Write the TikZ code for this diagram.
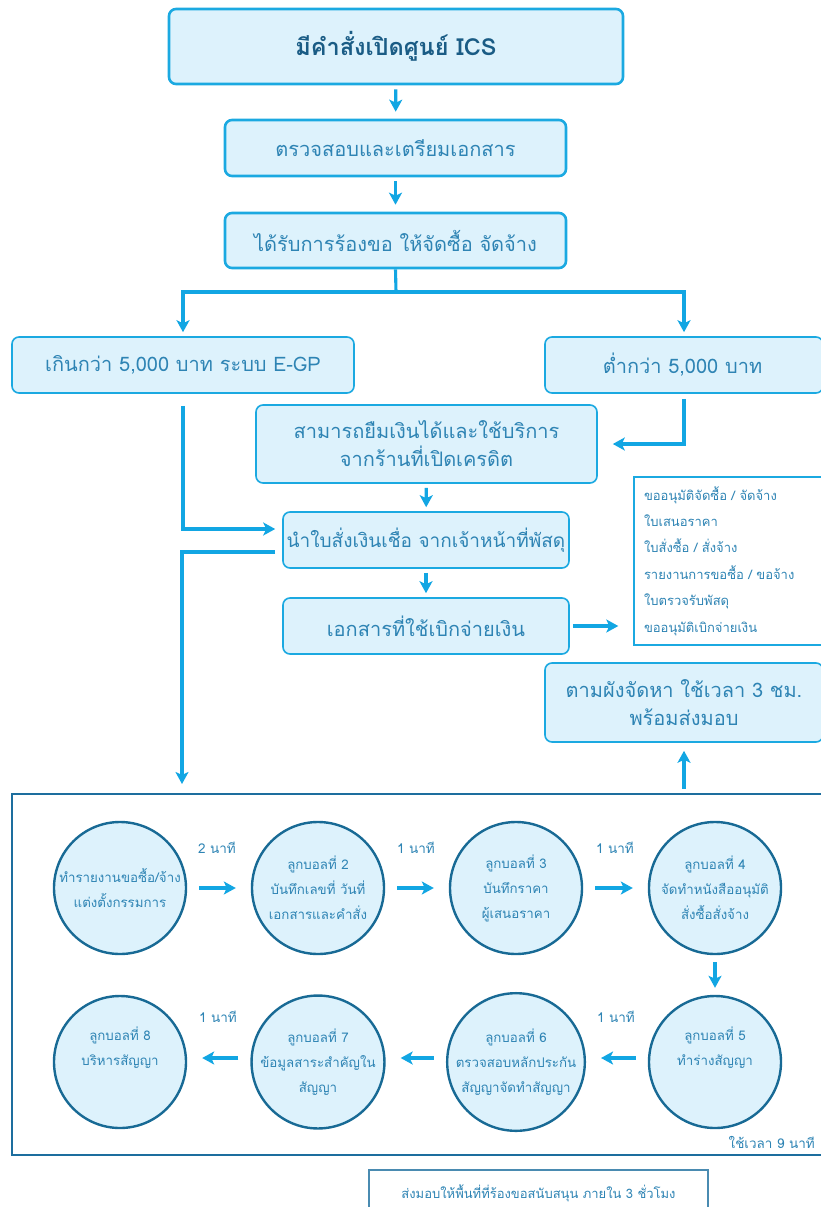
\documentclass[tikz,border=0pt]{standalone}
\usepackage{fontspec}
\setmainfont[Script=Thai]{Loma}
\usetikzlibrary{arrows.meta}
\definecolor{boxfill}{HTML}{DDF2FC}
\definecolor{boxline}{HTML}{1BA9E1}
\definecolor{arrowc}{HTML}{12A6E3}
\definecolor{txt}{HTML}{2E84B4}
\definecolor{titletxt}{HTML}{1A5C85}
\definecolor{framec}{HTML}{1D6E9E}
\definecolor{circlec}{HTML}{186A95}
\tikzset{
  bigbox/.style={draw=boxline, line width=2.6pt, fill=boxfill, rounded corners=7pt, text=txt, align=center, inner sep=0pt},
  box/.style={draw=boxline, line width=1.6pt, fill=boxfill, rounded corners=7pt, text=txt, align=center, inner sep=0pt, font=\fontsize{20}{28}\selectfont},
  ball/.style={circle, draw=circlec, line width=2.4pt, fill=boxfill, minimum size=132pt, inner sep=0pt, text=txt, align=center, font=\fontsize{13.3}{25}\selectfont},
  conn/.style={draw=arrowc, line width=3.1pt},
  arr/.style={conn, -{Stealth[length=12pt,width=13pt,inset=3pt]}},
  lbl/.style={text=txt, font=\fontsize{13.5}{16}\selectfont, inner sep=0pt},
}
\begin{document}
\begin{tikzpicture}[x=1pt,y=-1pt]
\useasboundingbox (0,0) rectangle (821,1207);
% top chain
\node[bigbox, minimum width=454pt, minimum height=75pt, font=\bfseries\fontsize{23.5}{28}\selectfont, text=titletxt] (b1) at (396,46.5) {มีคำสั่งเปิดศูนย์ ICS};
\node[bigbox, minimum width=341pt, minimum height=56pt, font=\fontsize{20}{28}\selectfont] (b2) at (395.5,148) {ตรวจสอบและเตรียมเอกสาร};
\node[bigbox, minimum width=341pt, minimum height=55pt, font=\fontsize{20}{28}\selectfont] (b3) at (395.5,240.5) {ได้รับการร้องขอ ให้จัดซื้อ จัดจ้าง};
\draw[arr, shorten <=4pt, shorten >=7pt] (b1) -- (b2);
\draw[arr, shorten <=4pt, shorten >=7pt] (b2) -- (b3);
% branches
\node[box, minimum width=342pt, minimum height=56pt] (b4) at (183,365) {เกินกว่า 5,000 บาท ระบบ E-GP};
\node[box, minimum width=278pt, minimum height=56pt] (b5) at (684,365) {\hspace*{-3pt}ต่ำกว่า 5,000 บาท};
\coordinate (fork) at (396,292);
\draw[conn] (b3.south) -- (fork);
\draw[arr, shorten >=4pt] (fork) -| (b4.north);
\draw[arr, shorten >=4pt] (fork) -| (b5.north);
\node[box, minimum width=341pt, minimum height=78pt] (b6) at (426.5,444) {สามารถยืมเงินได้และใช้บริการ\\จากร้านที่เปิดเครดิต};
\draw[arr, shorten <=5pt, shorten >=15pt] (b5.south) |- (b6.east);
\node[box, minimum width=286pt, minimum height=56pt, font=\fontsize{19}{28}\selectfont] (b7) at (426,540) {นำใบสั่งเงินเชื่อ จากเจ้าหน้าที่พัสดุ};
\node[box, minimum width=286pt, minimum height=56pt] (b8) at (426,626) {เอกสารที่ใช้เบิกจ่ายเงิน};
\draw[arr, shorten <=4pt, shorten >=4pt] (b6) -- (b7);
\draw[arr, shorten <=4pt, shorten >=4pt] (b7) -- (b8);
\draw[arr, shorten >=7pt] ([yshift=-12pt]b4.south) |- ([yshift=11pt]b7.west);
\coordinate (fin) at (182,784);
\draw[arr] ([xshift=-7pt,yshift=-12pt]b7.west) -| (fin);
% list
\node[draw=boxline, line width=1.4pt, fill=white, minimum width=190pt, minimum height=168pt, text width=170pt, inner xsep=10pt, align=left, text=txt, font=\fontsize{13}{26.4}\selectfont] (list) at (729,561) {ขออนุมัติจัดซื้อ / จัดจ้าง\\ใบเสนอราคา\\ใบสั่งซื้อ / สั่งจ้าง\\รายงานการขอซื้อ / ขอจ้าง\\ใบตรวจรับพัสดุ\\ขออนุมัติเบิกจ่ายเงิน};
\draw[arr, shorten <=3pt, shorten >=15pt] (b8.east) -- (b8.east -| list.west);
\node[box, minimum width=278pt, minimum height=79pt] (b9) at (684,702.5) {ตามผังจัดหา ใช้เวลา 3 ชม.\\พร้อมส่งมอบ};
% frame
\node[draw=framec, line width=2.6pt, minimum width=812pt, minimum height=361pt, inner sep=0pt] (frame) at (418,974.5) {};
\draw[arr, shorten <=4pt, shorten >=8pt] (frame.north -| b9.south) -- (b9.south);
% balls
\node[ball] (c1) at (120,888) {ทำรายงานขอซื้อ/จ้าง\\แต่งตั้งกรรมการ};
\node[ball] (c2) at (318,888) {ลูกบอลที่ 2\\บันทึกเลขที่ วันที่\\เอกสารและคำสั่ง};
\node[ball] (c3) at (516,888) {ลูกบอลที่ 3\\บันทึกราคา\\ผู้เสนอราคา};
\node[ball] (c4) at (715,888) {ลูกบอลที่ 4\\จัดทำหนังสืออนุมัติ\\สั่งซื้อสั่งจ้าง};
\node[ball] (c5) at (715,1062) {ลูกบอลที่ 5\\ทำร่างสัญญา\\\strut};
\node[ball] (c6) at (516,1062) {ลูกบอลที่ 6\\ตรวจสอบหลักประกัน\\สัญญาจัดทำสัญญา};
\node[ball] (c7) at (318,1062) {ลูกบอลที่ 7\\ข้อมูลสาระสำคัญใน\\สัญญา};
\node[ball] (c8) at (120,1062) {ลูกบอลที่ 8\\บริหารสัญญา\\\strut};
\draw[arr, shorten <=12pt, shorten >=15pt] (c1) -- (c2);
\draw[arr, shorten <=12pt, shorten >=15pt] (c2) -- (c3);
\draw[arr, shorten <=12pt, shorten >=15pt] (c3) -- (c4);
\draw[arr, shorten <=7pt, shorten >=7pt] (c4) -- (c5);
\draw[arr, shorten <=12pt, shorten >=15pt] ([yshift=4pt]c5.west) -- ([yshift=4pt]c6.east);
\draw[arr, shorten <=12pt, shorten >=15pt] ([yshift=4pt]c6.west) -- ([yshift=4pt]c7.east);
\draw[arr, shorten <=12pt, shorten >=15pt] ([yshift=4pt]c7.west) -- ([yshift=4pt]c8.east);
\node[lbl] (t12) at (217,848) {2 นาที};
\node[lbl] (t23) at (416,848) {1 นาที};
\node[lbl] (t34) at (615,848) {1 นาที};
\node[lbl] (t56) at (616,1017) {1 นาที};
\node[lbl] (t78) at (218,1017) {1 นาที};
\node[lbl, anchor=east] (tot) at (815,1142) {ใช้เวลา 9 นาที};
% bottom
\node[draw=framec!80, line width=1.2pt, fill=white, minimum width=339pt, minimum height=46pt, inner sep=0pt, text=txt, font=\fontsize{13}{16}\selectfont] (bot) at (538.5,1193) {ส่งมอบให้พื้นที่ที่ร้องขอสนับสนุน ภายใน 3 ชั่วโมง};
\end{tikzpicture}
\end{document}
